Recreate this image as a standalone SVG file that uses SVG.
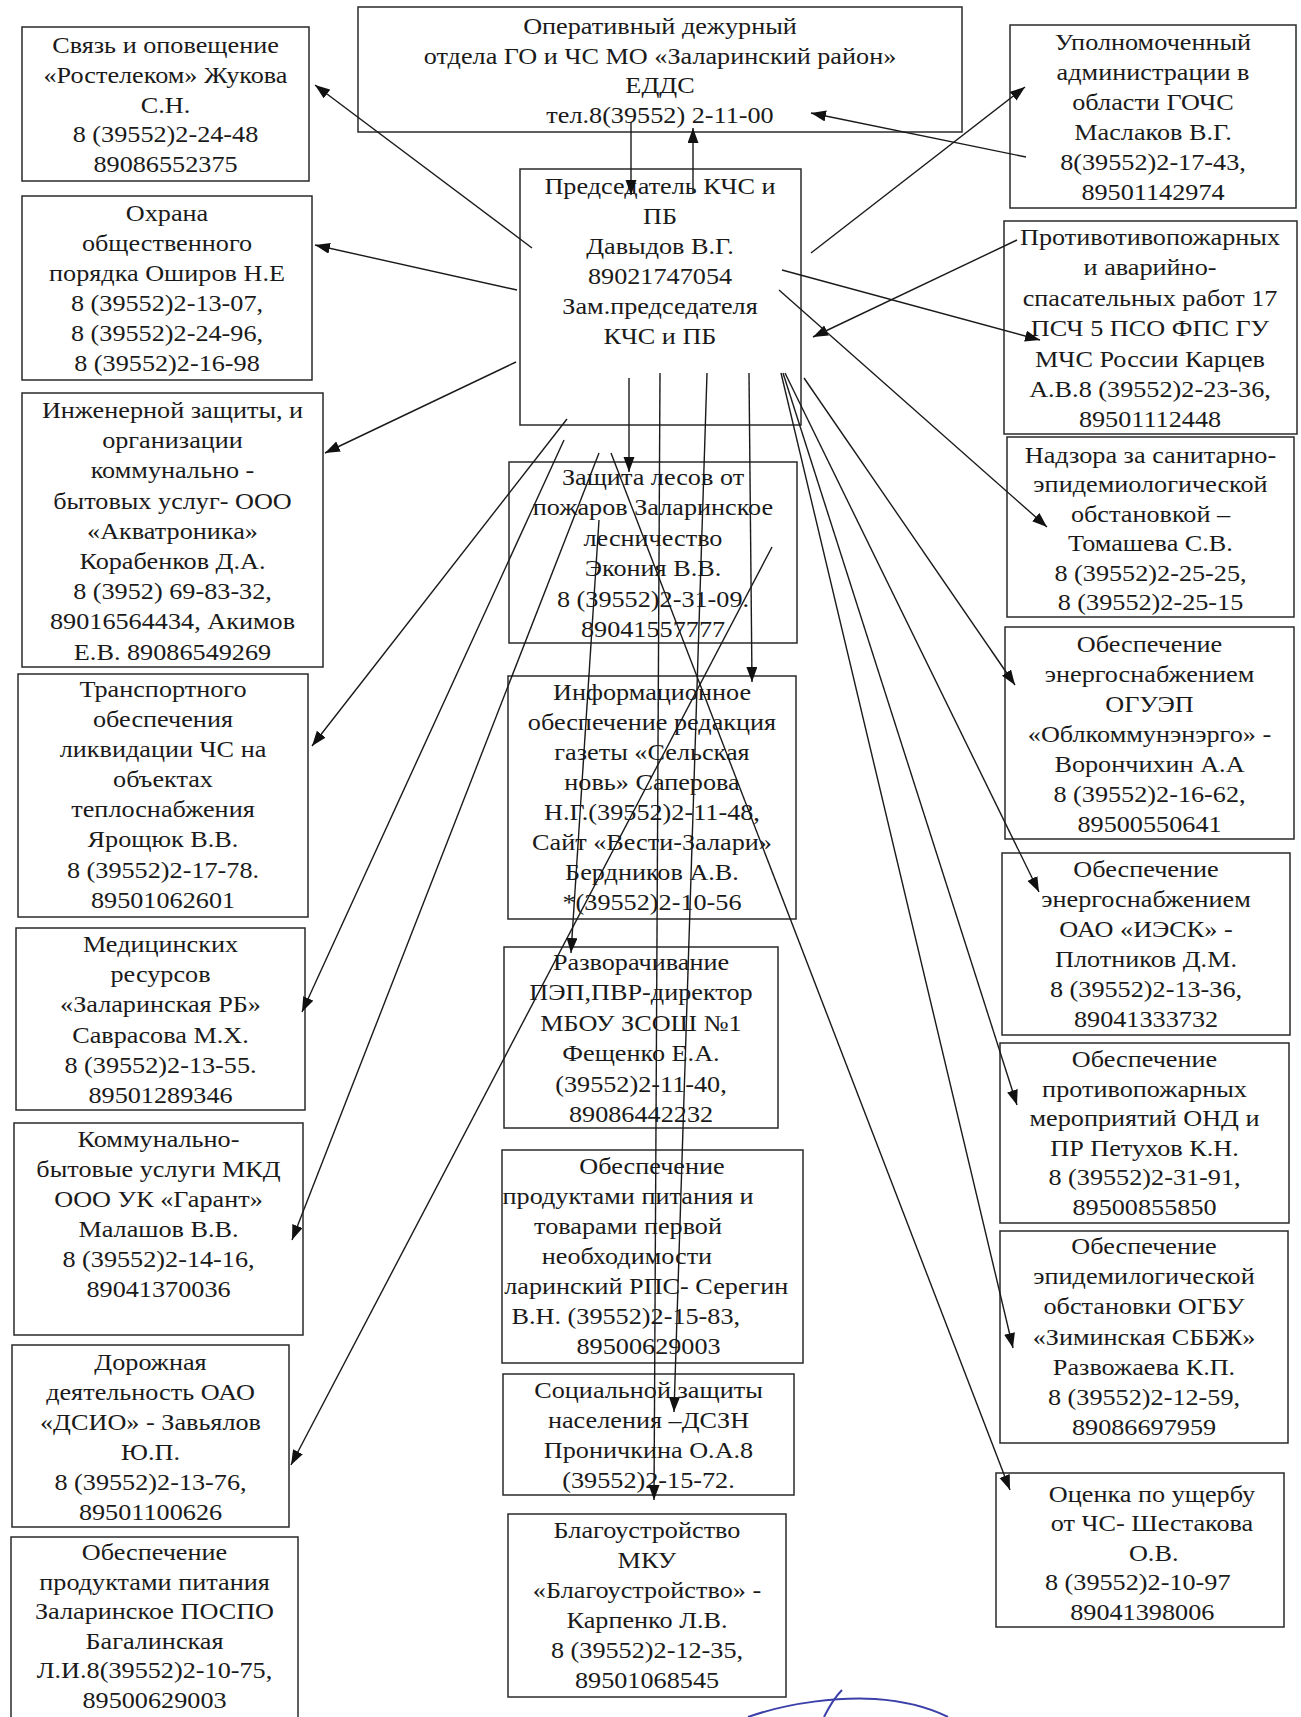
<svg xmlns="http://www.w3.org/2000/svg" width="1301" height="1717" viewBox="0 0 1301 1717">
<style>
.b{fill:#fff;stroke:#2a2a2a;stroke-width:1.5}
.t{font-family:"Liberation Serif","Times New Roman",serif;font-size:23px;fill:#1a1a1a;text-anchor:middle}
.c{fill:none;stroke:#1a1a1a;stroke-width:1.4}
.sig{fill:none;stroke:#3b3fa8;stroke-width:2}
</style>
<defs>
<marker id="ah" markerUnits="userSpaceOnUse" markerWidth="16" markerHeight="12" refX="15" refY="5.5" orient="auto">
<path d="M0,0 L15,5.5 L0,11 z" fill="#111"/>
</marker>
</defs>
<rect width="1301" height="1717" fill="#fff"/>
<g id="nodes">
<g id="n-edds"><rect class="b" x="358" y="7" width="604" height="125"/>
<text class="t" transform="translate(660,0) scale(1.14,1)"><tspan x="0" y="34">Оперативный дежурный</tspan><tspan x="0" y="64">отдела ГО и ЧС МО «Заларинский район»</tspan><tspan x="0" y="93">ЕДДС</tspan><tspan x="0" y="123">тел.8(39552) 2-11-00</tspan></text></g>
<g id="n-center"><rect class="b" x="520" y="169" width="281" height="256"/>
<text class="t" transform="translate(660,0) scale(1.14,1)"><tspan x="0" y="194">Председатель КЧС и</tspan><tspan x="0" y="224">ПБ</tspan><tspan x="0" y="254">Давыдов В.Г.</tspan><tspan x="0" y="284">89021747054</tspan><tspan x="0" y="314">Зам.председателя</tspan><tspan x="0" y="344">КЧС и ПБ</tspan></text></g>
<g id="n-svyaz"><rect class="b" x="22" y="27" width="287" height="154"/>
<text class="t" transform="translate(165.5,0) scale(1.14,1)"><tspan x="0" y="53">Связь и оповещение</tspan><tspan x="0" y="83">«Ростелеком» Жукова</tspan><tspan x="0" y="113">С.Н.</tspan><tspan x="0" y="142">8 (39552)2-24-48</tspan><tspan x="0" y="172">89086552375</tspan></text></g>
<g id="n-ohrana"><rect class="b" x="22" y="196" width="290" height="184"/>
<text class="t" transform="translate(167,0) scale(1.14,1)"><tspan x="0" y="221">Охрана</tspan><tspan x="0" y="251">общественного</tspan><tspan x="0" y="281">порядка Оширов Н.Е</tspan><tspan x="0" y="311">8 (39552)2-13-07,</tspan><tspan x="0" y="341">8 (39552)2-24-96,</tspan><tspan x="0" y="371">8 (39552)2-16-98</tspan></text></g>
<g id="n-inzh"><rect class="b" x="22" y="393" width="301" height="274"/>
<text class="t" transform="translate(172.5,0) scale(1.14,1)"><tspan x="0" y="418">Инженерной защиты, и</tspan><tspan x="0" y="448.2">организации</tspan><tspan x="0" y="478.4">коммунально -</tspan><tspan x="0" y="508.6">бытовых услуг- ООО</tspan><tspan x="0" y="538.8">«Акватроника»</tspan><tspan x="0" y="569">Корабенков Д.А.</tspan><tspan x="0" y="599.2">8 (3952) 69-83-32,</tspan><tspan x="0" y="629.4">89016564434, Акимов</tspan><tspan x="0" y="659.6">Е.В. 89086549269</tspan></text></g>
<g id="n-transp"><rect class="b" x="18" y="674" width="290" height="243"/>
<text class="t" transform="translate(163,0) scale(1.14,1)"><tspan x="0" y="697">Транспортного</tspan><tspan x="0" y="727.1">обеспечения</tspan><tspan x="0" y="757.2">ликвидации ЧС на</tspan><tspan x="0" y="787.3">объектах</tspan><tspan x="0" y="817.4">теплоснабжения</tspan><tspan x="0" y="847.5">Ярощюк В.В.</tspan><tspan x="0" y="877.6">8 (39552)2-17-78.</tspan><tspan x="0" y="907.7">89501062601</tspan></text></g>
<g id="n-med"><rect class="b" x="16" y="928" width="289" height="182"/>
<text class="t" transform="translate(160.5,0) scale(1.14,1)"><tspan x="0" y="952">Медицинских</tspan><tspan x="0" y="982.2">ресурсов</tspan><tspan x="0" y="1012.4">«Заларинская РБ»</tspan><tspan x="0" y="1042.6">Саврасова М.Х.</tspan><tspan x="0" y="1072.8">8 (39552)2-13-55.</tspan><tspan x="0" y="1103">89501289346</tspan></text></g>
<g id="n-komm"><rect class="b" x="14" y="1123" width="289" height="212"/>
<text class="t" transform="translate(158.5,0) scale(1.14,1)"><tspan x="0" y="1147">Коммунально-</tspan><tspan x="0" y="1177">бытовые услуги МКД</tspan><tspan x="0" y="1207">ООО УК «Гарант»</tspan><tspan x="0" y="1237">Малашов В.В.</tspan><tspan x="0" y="1267">8 (39552)2-14-16,</tspan><tspan x="0" y="1297">89041370036</tspan></text></g>
<g id="n-dor"><rect class="b" x="12" y="1345" width="277" height="182"/>
<text class="t" transform="translate(150.5,0) scale(1.14,1)"><tspan x="0" y="1370">Дорожная</tspan><tspan x="0" y="1400">деятельность ОАО</tspan><tspan x="0" y="1430">«ДСИО» - Завьялов</tspan><tspan x="0" y="1460">Ю.П.</tspan><tspan x="0" y="1490">8 (39552)2-13-76,</tspan><tspan x="0" y="1520">89501100626</tspan></text></g>
<g id="n-prod"><rect class="b" x="11" y="1537" width="287" height="200"/>
<text class="t" transform="translate(154.5,0) scale(1.14,1)"><tspan x="0" y="1560">Обеспечение</tspan><tspan x="0" y="1589.6">продуктами питания</tspan><tspan x="0" y="1619.2">Заларинское ПОСПО</tspan><tspan x="0" y="1648.8">Багалинская</tspan><tspan x="0" y="1678.4">Л.И.8(39552)2-10-75,</tspan><tspan x="0" y="1708">89500629003</tspan></text></g>
<g id="n-upoln"><rect class="b" x="1010" y="25" width="286" height="183"/>
<text class="t" transform="translate(1153,0) scale(1.14,1)"><tspan x="0" y="50">Уполномоченный</tspan><tspan x="0" y="80">администрации в</tspan><tspan x="0" y="110">области ГОЧС</tspan><tspan x="0" y="140">Маслаков В.Г.</tspan><tspan x="0" y="170">8(39552)2-17-43,</tspan><tspan x="0" y="200">89501142974</tspan></text></g>
<g id="n-protiv"><rect class="b" x="1004" y="221" width="293" height="213"/>
<text class="t" transform="translate(1150,0) scale(1.14,1)"><tspan x="0" y="245">Противотивопожарных</tspan><tspan x="0" y="275.4">и аварийно-</tspan><tspan x="0" y="305.8">спасательных работ 17</tspan><tspan x="0" y="336.2">ПСЧ 5 ПСО ФПС ГУ</tspan><tspan x="0" y="366.6">МЧС России Карцев</tspan><tspan x="0" y="397">А.В.8 (39552)2-23-36,</tspan><tspan x="0" y="427.4">89501112448</tspan></text></g>
<g id="n-nadz"><rect class="b" x="1007" y="437" width="287" height="180"/>
<text class="t" transform="translate(1150.5,0) scale(1.14,1)"><tspan x="0" y="463">Надзора за санитарно-</tspan><tspan x="0" y="492.4">эпидемиологической</tspan><tspan x="0" y="521.8">обстановкой –</tspan><tspan x="0" y="551.2">Томашева С.В.</tspan><tspan x="0" y="580.6">8 (39552)2-25-25,</tspan><tspan x="0" y="610">8 (39552)2-25-15</tspan></text></g>
<g id="n-oguep"><rect class="b" x="1005" y="627" width="289" height="212"/>
<text class="t" transform="translate(1149.5,0) scale(1.14,1)"><tspan x="0" y="652">Обеспечение</tspan><tspan x="0" y="682">энергоснабжением</tspan><tspan x="0" y="712">ОГУЭП</tspan><tspan x="0" y="742">«Облкоммунэнэрго» -</tspan><tspan x="0" y="772">Ворончихин А.А</tspan><tspan x="0" y="802">8 (39552)2-16-62,</tspan><tspan x="0" y="832">89500550641</tspan></text></g>
<g id="n-iesk"><rect class="b" x="1002" y="853" width="288" height="182"/>
<text class="t" transform="translate(1146,0) scale(1.14,1)"><tspan x="0" y="877">Обеспечение</tspan><tspan x="0" y="907">энергоснабжением</tspan><tspan x="0" y="937">ОАО «ИЭСК» -</tspan><tspan x="0" y="967">Плотников Д.М.</tspan><tspan x="0" y="997">8 (39552)2-13-36,</tspan><tspan x="0" y="1027">89041333732</tspan></text></g>
<g id="n-pozh"><rect class="b" x="1000" y="1043" width="289" height="180"/>
<text class="t" transform="translate(1144.5,0) scale(1.14,1)"><tspan x="0" y="1067">Обеспечение</tspan><tspan x="0" y="1096.6">противопожарных</tspan><tspan x="0" y="1126.2">мероприятий ОНД и</tspan><tspan x="0" y="1155.8">ПР Петухов К.Н.</tspan><tspan x="0" y="1185.4">8 (39552)2-31-91,</tspan><tspan x="0" y="1215">89500855850</tspan></text></g>
<g id="n-epid"><rect class="b" x="1000" y="1231" width="288" height="212"/>
<text class="t" transform="translate(1144,0) scale(1.14,1)"><tspan x="0" y="1254">Обеспечение</tspan><tspan x="0" y="1284.2">эпидемилогической</tspan><tspan x="0" y="1314.4">обстановки ОГБУ</tspan><tspan x="0" y="1344.6">«Зиминская СББЖ»</tspan><tspan x="0" y="1374.8">Развожаева К.П.</tspan><tspan x="0" y="1405">8 (39552)2-12-59,</tspan><tspan x="0" y="1435.2">89086697959</tspan></text></g>
<g id="n-otsenka"><rect class="b" x="996" y="1473" width="288" height="154"/>
<text class="t" transform="translate(1140,0) scale(1.14,1)"><tspan x="10.5" y="1502">Оценка по ущербу</tspan><tspan x="10.5" y="1531.5">от ЧС- Шестакова</tspan><tspan x="12" y="1561">О.В.</tspan><tspan x="-2" y="1590.5">8 (39552)2-10-97</tspan><tspan x="2" y="1620">89041398006</tspan></text></g>
<g id="n-les"><rect class="b" x="509" y="462" width="288" height="181"/>
<text class="t" transform="translate(653,0) scale(1.14,1)"><tspan x="0" y="485">Защита лесов от</tspan><tspan x="0" y="515.4">пожаров  Заларинское</tspan><tspan x="0" y="545.8">лесничество</tspan><tspan x="0" y="576.2">Экония В.В.</tspan><tspan x="0" y="606.6">8 (39552)2-31-09.</tspan><tspan x="0" y="637">89041557777</tspan></text></g>
<g id="n-inform"><rect class="b" x="508" y="676" width="288" height="243"/>
<text class="t" transform="translate(652,0) scale(1.14,1)"><tspan x="0" y="700">Информационное</tspan><tspan x="0" y="730">обеспечение редакция</tspan><tspan x="0" y="760">газеты «Сельская</tspan><tspan x="0" y="790">новь» Саперова</tspan><tspan x="0" y="820">Н.Г.(39552)2-11-48,</tspan><tspan x="0" y="850">Сайт «Вести-Залари»</tspan><tspan x="0" y="880">Бердников А.В.</tspan><tspan x="0" y="910">*(39552)2-10-56</tspan></text></g>
<g id="n-razv"><rect class="b" x="504" y="947" width="274" height="181"/>
<text class="t" transform="translate(641,0) scale(1.14,1)"><tspan x="0" y="970">Разворачивание</tspan><tspan x="0" y="1000.4">ПЭП,ПВР-директор</tspan><tspan x="0" y="1030.8">МБОУ ЗСОШ №1</tspan><tspan x="0" y="1061.2">Фещенко Е.А.</tspan><tspan x="0" y="1091.6">(39552)2-11-40,</tspan><tspan x="0" y="1122">89086442232</tspan></text></g>
<g id="n-prodtov"><rect class="b" x="502" y="1150" width="301" height="213"/>
<text class="t" transform="translate(652,0) scale(1.14,1)"><tspan x="0" y="1174">Обеспечение</tspan><tspan x="-21" y="1204">продуктами питания и</tspan><tspan x="-21" y="1234">товарами первой</tspan><tspan x="-22" y="1264">необходимости</tspan><tspan x="-5" y="1294">ларинский РПС- Серегин</tspan><tspan x="-23" y="1324">В.Н. (39552)2-15-83,</tspan><tspan x="-3" y="1354">89500629003</tspan></text></g>
<g id="n-soc"><rect class="b" x="503" y="1374" width="291" height="121"/>
<text class="t" transform="translate(648.5,0) scale(1.14,1)"><tspan x="0" y="1398">Социальной защиты</tspan><tspan x="0" y="1428">населения –ДСЗН</tspan><tspan x="0" y="1458">Проничкина О.А.8</tspan><tspan x="0" y="1488">(39552)2-15-72.</tspan></text></g>
<g id="n-blag"><rect class="b" x="508" y="1514" width="278" height="183"/>
<text class="t" transform="translate(647,0) scale(1.14,1)"><tspan x="0" y="1538">Благоустройство</tspan><tspan x="0" y="1568">МКУ</tspan><tspan x="0" y="1598">«Благоустройство» -</tspan><tspan x="0" y="1628">Карпенко Л.В.</tspan><tspan x="0" y="1658">8 (39552)2-12-35,</tspan><tspan x="0" y="1688">89501068545</tspan></text></g>
</g>
<g id="connectors" marker-end="url(#ah)">
<line class="c" x1="631" y1="122" x2="631" y2="195" marker-end="url(#ah)"/>
<line class="c" x1="693" y1="193" x2="693" y2="128" marker-end="url(#ah)"/>
<line class="c" x1="532" y1="248" x2="315" y2="85" marker-end="url(#ah)"/>
<line class="c" x1="517" y1="290" x2="315" y2="245" marker-end="url(#ah)"/>
<line class="c" x1="516" y1="362" x2="325" y2="453" marker-end="url(#ah)"/>
<line class="c" x1="811" y1="253" x2="1025" y2="87" marker-end="url(#ah)"/>
<line class="c" x1="1026" y1="157" x2="811" y2="113" marker-end="url(#ah)"/>
<line class="c" x1="782" y1="270" x2="1040" y2="340" marker-end="url(#ah)"/>
<line class="c" x1="1017" y1="240" x2="813" y2="337" marker-end="url(#ah)"/>
<line class="c" x1="779" y1="290" x2="1047" y2="527" marker-end="url(#ah)"/>
<line class="c" x1="567" y1="419" x2="312" y2="746" marker-end="url(#ah)"/>
<line class="c" x1="564" y1="440" x2="302" y2="1012" marker-end="url(#ah)"/>
<line class="c" x1="599" y1="453" x2="292" y2="1240" marker-end="url(#ah)"/>
<line class="c" x1="772" y1="547" x2="291" y2="1465" marker-end="url(#ah)"/>
<line class="c" x1="629" y1="378" x2="629" y2="472" marker-end="url(#ah)"/>
<line class="c" x1="599" y1="520" x2="571" y2="953" marker-end="url(#ah)"/>
<line class="c" x1="749" y1="373" x2="752" y2="682" marker-end="url(#ah)"/>
<line class="c" x1="660" y1="373" x2="654" y2="1500" marker-end="url(#ah)"/>
<line class="c" x1="707" y1="373" x2="674" y2="1412" marker-end="url(#ah)"/>
<line class="c" x1="611" y1="453" x2="1010" y2="1490" marker-end="url(#ah)"/>
<line class="c" x1="804" y1="378" x2="1015" y2="685" marker-end="url(#ah)"/>
<line class="c" x1="785" y1="373" x2="1039" y2="892" marker-end="url(#ah)"/>
<line class="c" x1="783" y1="373" x2="1017" y2="1105" marker-end="url(#ah)"/>
<line class="c" x1="781" y1="373" x2="1013" y2="1348" marker-end="url(#ah)"/>
</g>
<g id="signature">
<path class="sig" d="M748,1717 C790,1702 840,1697 875,1699 C905,1701 930,1708 948,1717"/>
<path class="sig" d="M824,1717 C830,1705 836,1696 842,1690"/>
</g>
</svg>
